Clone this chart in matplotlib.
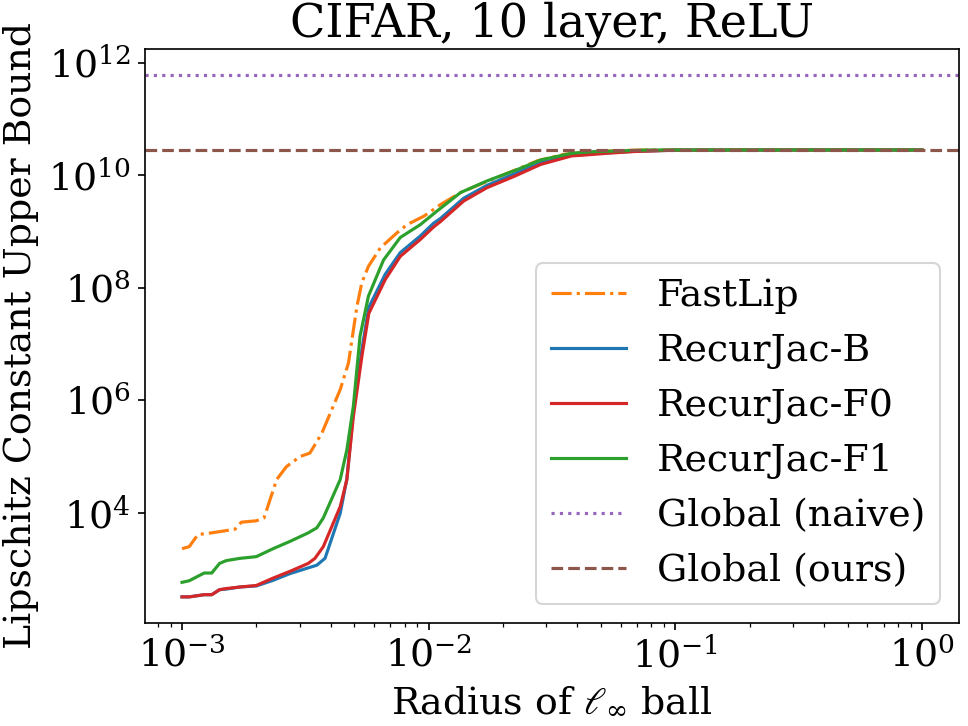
import matplotlib
matplotlib.use("Agg")
import matplotlib.pyplot as plt

plt.rcParams['font.family'] = 'DejaVu Serif'
plt.rcParams['mathtext.fontset'] = 'dejavuserif'

# radius values (per series) and Lipschitz upper bounds
fastlip_r = [0.00100, 0.00107, 0.00116, 0.00132, 0.00164, 0.00174, 0.00200, 0.00215,
             0.00242, 0.00265, 0.00301, 0.00330, 0.00369, 0.00438, 0.00473, 0.00512,
             0.00536, 0.00570, 0.00637, 0.00745, 0.00817, 0.00955, 0.01117, 0.01346,
             0.01620, 0.02020, 0.02760, 0.03540, 0.04539, 0.06209, 0.07727,
             0.1, 0.2, 0.5, 1.0]
fastlip_L = [2.3e3, 2.5e3, 4.1e3, 4.4e3, 5.1e3, 6.8e3, 7.2e3, 8.1e3,
             3.9e4, 6.6e4, 1.0e5, 1.15e5, 2.6e5, 1.55e6, 4.6e6, 4.7e7,
             1.23e8, 2.4e8, 5.1e8, 9.5e8, 1.32e9, 1.86e9, 3.0e9, 4.9e9,
             6.9e9, 1.02e10, 1.8e10, 2.35e10, 2.6e10, 2.75e10, 2.8e10,
             2.8e10, 2.8e10, 2.8e10, 2.8e10]

recB_r = [0.00100, 0.00107, 0.00123, 0.00132, 0.00142, 0.00151, 0.00172, 0.00200,
          0.00234, 0.00274, 0.00325, 0.00352, 0.00380, 0.00438, 0.00466, 0.00495,
          0.00536, 0.00572, 0.00667, 0.00767, 0.00925, 0.01047, 0.01117, 0.01387,
          0.01725, 0.02220, 0.02844, 0.03800, 0.04140, 0.05309, 0.06808, 0.1,
          0.2, 0.5, 1.0]
recB_L = [3.2e2, 3.2e2, 3.5e2, 3.5e2, 4.3e2, 4.4e2, 4.8e2, 5.0e2,
          6.3e2, 8.3e2, 1.05e3, 1.17e3, 1.55e3, 9.8e3, 4.0e4, 6.3e5,
          7.9e6, 4.5e7, 1.74e8, 4.2e8, 8.3e8, 1.4e9, 1.7e9, 3.9e9,
          6.6e9, 1.05e10, 1.65e10, 2.25e10, 2.35e10, 2.5e10, 2.65e10, 2.78e10,
          2.8e10, 2.8e10, 2.8e10]

recF0_r = [0.00100, 0.00107, 0.00123, 0.00132, 0.00142, 0.00151, 0.00172, 0.00200,
           0.00234, 0.00274, 0.00325, 0.00346, 0.00374, 0.00438, 0.00466, 0.00495,
           0.00536, 0.00572, 0.00667, 0.00767, 0.00925, 0.01047, 0.01117, 0.01387,
           0.01725, 0.02220, 0.02844, 0.03800, 0.04140, 0.05309, 0.06808, 0.1,
           0.2, 0.5, 1.0]
recF0_L = [3.2e2, 3.2e2, 3.5e2, 3.5e2, 4.3e2, 4.5e2, 4.8e2, 5.1e2,
           6.9e2, 9.1e2, 1.26e3, 1.55e3, 2.5e3, 1.29e4, 3.9e4, 5.1e5,
           6.0e6, 3.5e7, 1.4e8, 3.6e8, 7.2e8, 1.2e9, 1.5e9, 3.47e9,
           6.0e9, 9.5e9, 1.55e10, 2.2e10, 2.25e10, 2.45e10, 2.63e10, 2.78e10,
           2.8e10, 2.8e10, 2.8e10]

recF1_r = [0.00100, 0.00107, 0.00123, 0.00132, 0.00142, 0.00151, 0.00172, 0.00200,
           0.00234, 0.00274, 0.00325, 0.00352, 0.00374, 0.00438, 0.00466, 0.00495,
           0.00527, 0.00570, 0.00656, 0.00767, 0.00925, 0.01081, 0.01346, 0.01725,
           0.02290, 0.02844, 0.03800, 0.04539, 0.06209, 0.07727, 0.1,
           0.2, 0.5, 1.0]
recF1_L = [5.8e2, 6.2e2, 8.5e2, 8.5e2, 1.26e3, 1.41e3, 1.55e3, 1.66e3,
           2.3e3, 3.1e3, 4.4e3, 5.4e3, 8.1e3, 3.9e4, 1.32e5, 7.8e5,
           1.38e7, 7.1e7, 3.1e8, 7.8e8, 1.32e9, 2.3e9, 4.9e9, 7.9e9,
           1.26e10, 1.86e10, 2.45e10, 2.6e10, 2.72e10, 2.8e10, 2.8e10,
           2.8e10, 2.8e10, 2.8e10]

global_naive = 6.0e11
global_ours = 2.8e10

fig = plt.figure(figsize=(6.4, 4.8), dpi=151.25)
fig.subplots_adjust(left=0.1498, right=0.9907, bottom=0.1419, top=0.9325)
ax = fig.add_subplot(111)

ax.plot(fastlip_r, fastlip_L, '-.', color='tab:orange', label='FastLip')
ax.plot(recB_r, recB_L, '-', color='tab:blue', label='RecurJac-B')
ax.plot(recF0_r, recF0_L, '-', color='tab:red', label='RecurJac-F0')
ax.plot(recF1_r, recF1_L, '-', color='tab:green', label='RecurJac-F1')
ax.axhline(global_naive, linestyle=':', color='tab:purple', label='Global (naive)')
ax.axhline(global_ours, linestyle='--', color='tab:brown', label='Global (ours)')

ax.set_xscale('log')
ax.set_yscale('log')
ax.set_yticks([1e4, 1e6, 1e8, 1e10, 1e12])

ax.tick_params(labelsize=18)
ax.set_title('CIFAR, 10 layer, ReLU', fontsize=22)
ax.set_xlabel(r'Radius of $\ell_\infty$ ball', fontsize=18)
ax.set_ylabel('Lipschitz Constant Upper Bound', fontsize=18)
ax.legend(loc='lower right', fontsize=18)

fig.savefig('out.png', dpi=151.25)
